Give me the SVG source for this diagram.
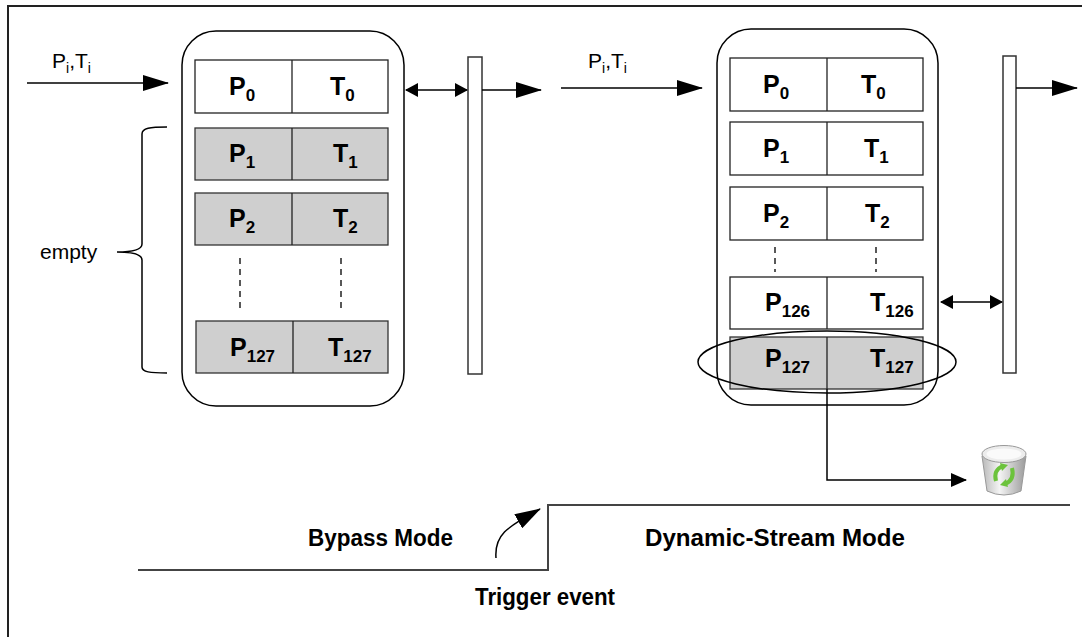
<svg xmlns="http://www.w3.org/2000/svg" width="1082" height="637" viewBox="0 0 1082 637">
<defs>
<style>
.frame{fill:none;stroke:#222;stroke-width:2}
.cont{fill:#fff;stroke:#000;stroke-width:1.5}
.cell{fill:#fff;stroke:#222;stroke-width:1.3}
.gray{fill:#cfcfcf;stroke:#333;stroke-width:1.3}
.div{stroke:#222;stroke-width:1.3}
.bar{fill:#fff;stroke:#333;stroke-width:1.5}
.ln{fill:none;stroke:#000;stroke-width:1.5}
.dash{stroke:#222;stroke-width:1.5;stroke-dasharray:6,5}
.step{fill:none;stroke:#444;stroke-width:2}
.ct{font-family:"Liberation Sans",Arial,sans-serif;font-weight:bold;font-size:25px;fill:#000}
.sub{font-size:17px}
.lbl{font-family:"Liberation Sans",Arial,sans-serif;font-size:21px;fill:#000}
.lsub{font-size:14px}
.mode{font-family:"Liberation Sans",Arial,sans-serif;font-weight:bold;font-size:23px;fill:#000}
</style>
<marker id="big" markerWidth="26" markerHeight="16" refX="25" refY="8" orient="auto" markerUnits="userSpaceOnUse"><path d="M0,0 L26,8 L0,16 z" fill="#000"/></marker>
<marker id="sm" markerWidth="13" markerHeight="14" refX="12" refY="7" orient="auto-start-reverse" markerUnits="userSpaceOnUse"><path d="M0,0 L13,7 L0,14 z" fill="#000"/></marker>
<marker id="mid" markerWidth="16" markerHeight="14" refX="15" refY="7" orient="auto" markerUnits="userSpaceOnUse"><path d="M0,0 L16,7 L0,14 z" fill="#000"/></marker>
<linearGradient id="can" x1="0" y1="0" x2="1" y2="0"><stop offset="0" stop-color="#b8b8b8"/><stop offset="0.4" stop-color="#f4f4f4"/><stop offset="1" stop-color="#9a9a9a"/></linearGradient>
</defs>

<rect class="frame" x="8" y="6" width="1100" height="660"/>

<g id="left-buffer">
<rect class="cont" x="182" y="31" width="222" height="375" rx="34" ry="34"/>
<rect class="cell" x="195" y="60" width="193" height="53"/>
<line class="div" x1="292" y1="60" x2="292" y2="113"/>
<text class="ct" x="229" y="95">P<tspan class="sub" dy="6">0</tspan></text>
<text class="ct" x="330" y="95">T<tspan class="sub" dy="6">0</tspan></text>
<rect class="gray" x="195" y="128" width="193" height="52"/>
<line class="div" x1="292" y1="128" x2="292" y2="180"/>
<text class="ct" x="229" y="162">P<tspan class="sub" dy="6">1</tspan></text>
<text class="ct" x="333" y="162">T<tspan class="sub" dy="6">1</tspan></text>
<rect class="gray" x="195" y="193" width="193" height="52"/>
<line class="div" x1="292" y1="193" x2="292" y2="245"/>
<text class="ct" x="229" y="227">P<tspan class="sub" dy="6">2</tspan></text>
<text class="ct" x="333" y="227">T<tspan class="sub" dy="6">2</tspan></text>
<line class="dash" x1="240" y1="258" x2="240" y2="308"/>
<line class="dash" x1="341" y1="258" x2="341" y2="308"/>
<rect class="gray" x="196" y="321" width="192" height="52"/>
<line class="div" x1="293" y1="321" x2="293" y2="373"/>
<text class="ct" x="230" y="356">P<tspan class="sub" dy="6">127</tspan></text>
<text class="ct" x="328" y="356">T<tspan class="sub" dy="6">127</tspan></text>
</g>

<g id="left-bar"><rect class="bar" x="468" y="57" width="14" height="317"/></g>

<g id="empty-brace">
<path class="ln" stroke-width="1.3" d="M167,127 C150,127 142,128 142,134 L142,244 C142,250 131,252 117,252 C131,252 142,254 142,260 L142,367 C142,372 150,373 167,373"/>
<text class="lbl" x="40" y="259" font-size="21.5">empty</text>
</g>

<g id="right-buffer">
<rect class="cont" x="717" y="29" width="221" height="376" rx="34" ry="34"/>
<rect class="cell" x="730" y="58" width="193" height="53"/>
<line class="div" x1="827" y1="58" x2="827" y2="111"/>
<text class="ct" x="763" y="93">P<tspan class="sub" dy="6">0</tspan></text>
<text class="ct" x="861" y="93">T<tspan class="sub" dy="6">0</tspan></text>
<rect class="cell" x="730" y="122" width="193" height="53"/>
<line class="div" x1="827" y1="122" x2="827" y2="175"/>
<text class="ct" x="763" y="157">P<tspan class="sub" dy="6">1</tspan></text>
<text class="ct" x="864" y="157">T<tspan class="sub" dy="6">1</tspan></text>
<rect class="cell" x="730" y="187" width="193" height="53"/>
<line class="div" x1="827" y1="187" x2="827" y2="240"/>
<text class="ct" x="763" y="222">P<tspan class="sub" dy="6">2</tspan></text>
<text class="ct" x="865" y="222">T<tspan class="sub" dy="6">2</tspan></text>
<line class="dash" x1="775" y1="247" x2="775" y2="272"/>
<line class="dash" x1="876" y1="247" x2="876" y2="272"/>
<rect class="cell" x="730" y="277" width="193" height="52"/>
<line class="div" x1="827" y1="277" x2="827" y2="329"/>
<text class="ct" x="765" y="311">P<tspan class="sub" dy="6">126</tspan></text>
<text class="ct" x="870" y="311">T<tspan class="sub" dy="6">126</tspan></text>
<rect class="gray" x="730" y="337" width="193" height="52"/>
<line class="div" x1="827" y1="337" x2="827" y2="389"/>
<text class="ct" x="765" y="367">P<tspan class="sub" dy="6">127</tspan></text>
<text class="ct" x="870" y="367">T<tspan class="sub" dy="6">127</tspan></text>
<ellipse cx="827" cy="362" rx="129" ry="31" fill="none" stroke="#000" stroke-width="1.5"/>
</g>

<g id="right-bar"><rect class="bar" x="1003" y="56" width="13" height="317"/></g>

<g id="trash">
<path d="M982,456 L1026,456 L1021,491 Q1004,499 987,491 Z" fill="url(#can)" stroke="#999" stroke-width="1"/>
<ellipse cx="1004" cy="454" rx="22" ry="8.5" fill="#ececec" stroke="#999" stroke-width="1"/>
<ellipse cx="1004" cy="454" rx="17.5" ry="5.5" fill="#fafafa"/>
<path d="M996,481 Q993,470 1003,466" fill="none" stroke="#6cc33c" stroke-width="4"/>
<path d="M1000,463 L1008,465 L1002,471 z" fill="#6cc33c"/>
<path d="M1012,468 Q1015,480 1005,484" fill="none" stroke="#6cc33c" stroke-width="4"/>
<path d="M1008,487 L1000,485 L1006,479 z" fill="#6cc33c"/>
</g>

<g id="connectors">
<line class="ln" x1="27" y1="83" x2="168" y2="83" marker-end="url(#big)"/>
<line class="ln" x1="406" y1="90" x2="467" y2="90" marker-start="url(#sm)" marker-end="url(#sm)"/>
<line class="ln" x1="482" y1="90" x2="541" y2="90" marker-end="url(#big)"/>
<line class="ln" x1="561" y1="88" x2="702" y2="88" marker-end="url(#big)"/>
<line class="ln" x1="941" y1="302" x2="1002" y2="302" marker-start="url(#sm)" marker-end="url(#sm)"/>
<line class="ln" x1="1016" y1="88" x2="1077" y2="88" marker-end="url(#big)"/>
<polyline class="ln" points="827,389 827,480 966,480" marker-end="url(#mid)"/>
<polyline class="step" points="138,570 548,570 548,505 1070,505"/>
<path class="ln" d="M496,558 C494,533 510,526 540,509" marker-end="url(#big)"/>
</g>

<g id="labels">
<text class="lbl" x="52" y="68">P<tspan class="lsub" dy="5">i</tspan><tspan dy="-5">,T</tspan><tspan class="lsub" dy="5">i</tspan></text>
<text class="lbl" x="588" y="68">P<tspan class="lsub" dy="5">i</tspan><tspan dy="-5">,T</tspan><tspan class="lsub" dy="5">i</tspan></text>
<text class="mode" x="308" y="546" textLength="145" lengthAdjust="spacingAndGlyphs">Bypass Mode</text>
<text class="mode" x="645" y="546" textLength="260" lengthAdjust="spacingAndGlyphs">Dynamic-Stream Mode</text>
<text class="mode" x="475" y="605" textLength="140" lengthAdjust="spacingAndGlyphs">Trigger event</text>
</g>
</svg>
